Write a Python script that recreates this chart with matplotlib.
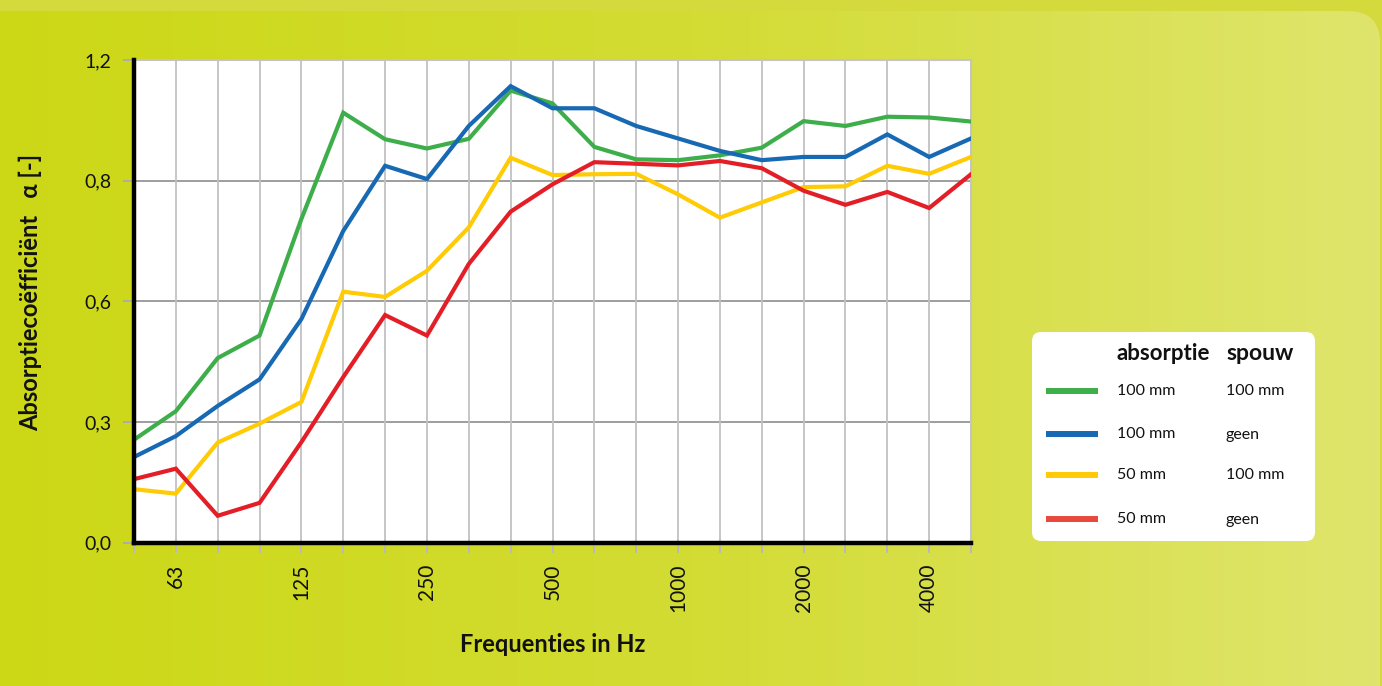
import numpy as np
import matplotlib
matplotlib.use("Agg")
import matplotlib.pyplot as plt
from matplotlib.patches import FancyBboxPatch
from matplotlib.lines import Line2D
from matplotlib.colors import LinearSegmentedColormap

# ---------------- data ----------------
bands = ['50', '63', '80', '100', '125', '160', '200', '250', '315', '400', '500',
         '630', '800', '1000', '1250', '1600', '2000', '2500', '3150', '4000', '5000']
shown_ticks = ['63', '125', '250', '500', '1000', '2000', '4000']

y_ticks = [0.0, 0.3, 0.6, 0.9, 1.2]
y_tick_labels = ['0,0', '0,3', '0,6', '0,8', '1,2']

green = [0.256, 0.327, 0.459, 0.515, 0.805, 1.069, 1.003, 0.980, 1.004, 1.124, 1.092,
         0.984, 0.953, 0.951, 0.963, 0.982, 1.048, 1.036, 1.059, 1.057, 1.047]
blue = [0.213, 0.265, 0.340, 0.406, 0.556, 0.775, 0.937, 0.904, 1.036, 1.135, 1.080,
        1.080, 1.036, 1.005, 0.974, 0.951, 0.959, 0.959, 1.015, 0.959, 1.005]
yellow = [0.133, 0.122, 0.249, 0.296, 0.350, 0.624, 0.611, 0.676, 0.784, 0.957, 0.914,
          0.916, 0.917, 0.866, 0.808, 0.846, 0.884, 0.886, 0.937, 0.917, 0.959]
red = [0.158, 0.184, 0.067, 0.099, 0.250, 0.412, 0.566, 0.515, 0.693, 0.823, 0.891,
       0.946, 0.942, 0.938, 0.949, 0.931, 0.875, 0.840, 0.872, 0.832, 0.916]

series = [green, blue, yellow, red]
line_colors = ['#3dae49', '#1769b3', '#ffcb05', '#e31e27']
legend_colors = ['#3dae49', '#1769b3', '#ffcb05', '#e8493d']
col_absorptie = ['100 mm', '100 mm', '50 mm', '50 mm']
col_spouw = ['100 mm', 'geen', '100 mm', 'geen']
legend_headers = ['absorptie', 'spouw']
x_title = 'Frequenties in Hz'
y_title = 'Absorptiecoëfficiënt   α [-]'

# ---------------- figure ----------------
W, H = 1382, 686
plt.rcParams['font.family'] = ['Lato', 'DejaVu Sans']
fig = plt.figure(figsize=(W / 100, H / 100), dpi=100)
fig.patch.set_facecolor('#d4da3b')

def fx(px):
    return px / W

def fy(py):
    return 1 - py / H

# background panel with gradient
bg = fig.add_axes([0, 0, 1, 1], zorder=-10)
bg.set_xlim(0, W)
bg.set_ylim(H, 0)
bg.axis('off')
panel = FancyBboxPatch((-60, 11), W - 2 + 60, H + 60,
                       boxstyle='round,pad=0,rounding_size=32',
                       facecolor='none', edgecolor='none')
bg.add_patch(panel)
cmap = LinearSegmentedColormap.from_list('bgc', ['#ccd816', '#d3dc33', '#dfe56c'])
grad = np.linspace(0, 1, 256).reshape(1, -1)
im = bg.imshow(grad, extent=[0, W, H, 0], aspect='auto', cmap=cmap, zorder=0)
im.set_clip_path(panel)

# ---------------- chart ----------------
x = np.arange(len(bands))
ax = fig.add_axes([fx(134), fy(542.7), fx(971) - fx(134), fy(60) - fy(542.7)])
ax.set_facecolor('white')
for vals, c in zip(series, line_colors):
    ax.plot(x, vals, color=c, lw=3.0, solid_joinstyle='miter', zorder=3)

ax.set_xlim(0, len(bands) - 1)
ax.set_ylim(0, 1.2)

ax.set_xticks(x)
ax.set_xticklabels([b if b in shown_ticks else '' for b in bands], rotation=90,
                   fontsize=15, color='#111111')
ax.tick_params(axis='x', length=7, width=1.3, color='#b8b8b8', pad=8)
ax.set_yticks(y_ticks)
ax.set_yticklabels(y_tick_labels, fontsize=14, color='#111111')
ax.tick_params(axis='y', length=8, width=1.3, color='#a9a9b8', pad=8)

ax.grid(axis='x', color='#c2c2c2', lw=1.3, zorder=1)
for yv in y_ticks[1:-1]:
    ax.axhline(yv, color='#9e9e9e', lw=1.4, zorder=1)

for s in ['left', 'bottom']:
    ax.spines[s].set_color('black')
    ax.spines[s].set_linewidth(3.2)
    ax.spines[s].set_zorder(5)
for s in ['top', 'right']:
    ax.spines[s].set_color('#c4c4c4')
    ax.spines[s].set_linewidth(1.5)

fig.text(fx(553), fy(645), x_title, ha='center', va='center',
         fontsize=17, fontweight='bold', color='#111111')
fig.text(fx(30), fy(292), y_title, ha='center', va='center', rotation=90,
         fontsize=17, fontweight='bold', color='#111111')

# ---------------- legend ----------------
lg = fig.add_axes([0, 0, 1, 1], zorder=10)
lg.set_xlim(0, W)
lg.set_ylim(H, 0)
lg.axis('off')
box = FancyBboxPatch((1032, 332), 283, 209, boxstyle='round,pad=0,rounding_size=9',
                     facecolor='white', edgecolor='none')
lg.add_patch(box)
lg.text(1117, 354, legend_headers[0], ha='left', va='center', fontsize=16,
        fontweight='bold', color='#111111')
lg.text(1226, 354, legend_headers[1], ha='left', va='center', fontsize=16.5,
        fontweight='bold', color='#111111')
row_y = [391, 434, 475, 519]
for ry, c, a, s in zip(row_y, legend_colors, col_absorptie, col_spouw):
    lg.add_line(Line2D([1046, 1098], [ry, ry], color=c, lw=4.3, solid_capstyle='butt'))
    lg.text(1117, ry, a, ha='left', va='center', fontsize=11.5, color='#111111')
    lg.text(1226, ry + (1 if s == 'geen' else 0), s, ha='left', va='center',
            fontsize=11.5, color='#111111')

fig.savefig('out.png', dpi=100, facecolor=fig.get_facecolor())
